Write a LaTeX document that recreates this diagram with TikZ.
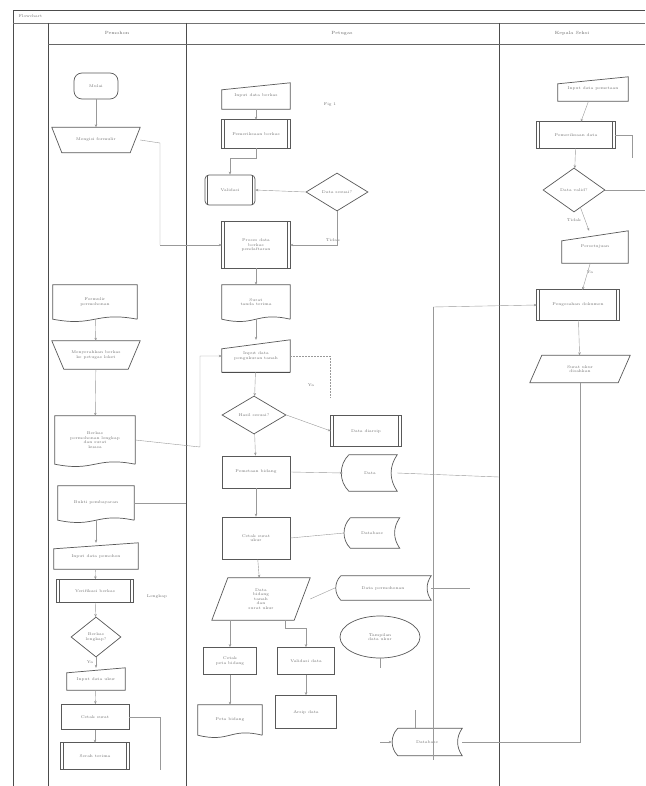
\documentclass[tikz,border=0pt]{standalone}
\usetikzlibrary{shapes.geometric,arrows.meta,calc}
\newcommand\shpManIn[2][6]{\draw[shp] (#2.south west) -- (#2.south east) -- (#2.north east) -- ([yshift=-#1pt]#2.north west) -- cycle;}
\newcommand\shpDoc[1]{\draw[shp] (#1.south east) -- (#1.north east) -- (#1.north west) -- (#1.south west) .. controls ($(#1.south west)!0.5!(#1.south east)+(0,-8pt)$) and ($(#1.south west)!0.5!(#1.south east)+(0,8pt)$) .. (#1.south east);}
\newcommand\shpPre[1]{\draw[shp] (#1.south west) rectangle (#1.north east); \draw[shp] ([xshift=3pt]#1.south west) -- ([xshift=3pt]#1.north west) ([xshift=-3pt]#1.south east) -- ([xshift=-3pt]#1.north east);}
\newcommand\shpPar[2][10]{\draw[shp] ([xshift=#1pt]#2.north west) -- (#2.north east) -- ([xshift=-#1pt]#2.south east) -- (#2.south west) -- cycle;}
\newcommand\shpMop[2][10]{\draw[shp] (#2.north west) -- (#2.north east) -- ([xshift=-#1pt]#2.south east) -- ([xshift=#1pt]#2.south west) -- cycle;}
\newcommand\shpSto[1]{\draw[shp] ([xshift=6pt]#1.north west) -- (#1.north east) to[bend right=35] (#1.south east) -- ([xshift=6pt]#1.south west) to[bend left=45] ([xshift=6pt]#1.north west);}
\begin{document}
\begin{tikzpicture}[x=1pt,y=-1pt,
  shp/.style={draw=black!65, line width=0.7pt},
  lane/.style={draw=black!70, line width=0.8pt},
  con/.style={draw=black!40, line width=0.4pt},
  arr/.style={con,-{Stealth[length=3pt,width=2.5pt]}},
  bx/.style 2 args={minimum width=#1pt, minimum height=#2pt, inner sep=1pt},
  t/.style={font=\fontsize{4}{4.6}\selectfont, text=black!55, align=center},
  hd/.style={font=\fontsize{4.5}{5}\selectfont, text=black!60},
  dmd/.style={diamond, shp, t, inner sep=0pt},
  term/.style={shp, rounded corners=8pt}]
\useasboundingbox (0,0) rectangle (645,786);
\fill[white] (0,0) rectangle (645,786);
% frame and lanes
\draw[lane] (13,786) -- (13,10) -- (645,10);
\draw[draw=black!55, line width=0.6pt] (13,23) -- (645,23);
\node[t, anchor=west] (title) at (15,16.5) {Flowchart};
\draw[lane] (48,23) -- (48,786);
\draw[lane] (186,23) -- (186,786);
\draw[lane] (499,23) -- (499,786);
\draw[draw=black!60, line width=0.6pt] (48,44) -- (645,44);
\node[hd] (h1) at (117,33) {Pemohon};
\node[hd] (h2) at (342,33) {Petugas};
\node[hd] (h3) at (572,33) {Kepala Seksi};

% ---------- lane 1 ----------
\node[t, bx={44}{26}, term] (s1) at (96,86) {Mulai};
\node[t, bx={88}{25}] (m1) at (96,140) {Mengisi formulir}; \shpMop{m1}
\node[t, bx={84}{34}] (d1) at (95,302) {Formulir\\permohonan}; \shpDoc{d1}
\node[t, bx={88}{28}] (m2) at (96,355) {Menyerahkan berkas\\ke petugas loket}; \shpMop[12]{m2}
\node[t, bx={80}{48}] (d2) at (95,440) {Berkas\\permohonan lengkap\\dan surat\\kuasa}; \shpDoc{d2}
\node[t, bx={76}{34}] (d3) at (96,503) {Bukti pembayaran}; \shpDoc{d3}
\node[t, bx={84}{26}, yshift=-2pt] (i1) at (96,554) {Input data pemohon}; \shpManIn{i1}
\node[t, bx={76}{23}] (p1) at (95,591) {Verifikasi berkas}; \shpPre{p1}
\node[dmd, minimum width=50pt, minimum height=40pt] (k1) at (96,637) {Berkas\\lengkap?};
\node[t, bx={58}{22}] (i2) at (96,679) {Input data ukur}; \shpManIn[5]{i2}
\node[t, bx={68}{25}, shp] (r1) at (95,717) {Cetak surat};
\node[t, bx={68}{26}] (p2) at (95,756) {Serah terima}; \shpPre{p2}
\node[t] (l1) at (157,597) {Lengkap};
\node[t] (l2) at (90,662) {Ya};

\draw[arr] (s1) -- (m1);
\draw[con] (m1.east) -- (160,143) -- (160,245);
\draw[arr] (d1) -- (m2);
\draw[arr] (m2) -- (d2);
\draw[arr] (d3.south) -- (i1.north);
\draw[arr] (i1) -- (p1);
\draw[arr] (p1) -- (k1);
\draw[arr] (k1) -- (i2);
\draw[arr] (i2) -- (r1);
\draw[arr] (r1) -- (p2);
\draw[con] (d3.east) -- (186,503);
\draw[con] (r1.east) -- (160,717) -- (160,770);

% ---------- lane 2 ----------
\node[t, bx={68}{26}] (i3) at (256,96) {Input data berkas}; \shpManIn[7]{i3}
\node[t] (fg) at (330,105) {Fig 1};
\node[t, bx={68}{28}] (p3) at (256,134) {Pemeriksaan berkas}; \shpPre{p3}
\node[t, bx={50}{30}, shp, rounded corners=4pt] (p4) at (230,190) {Validasi};
\draw[shp] ([xshift=3pt]p4.south west) -- ([xshift=3pt]p4.north west) ([xshift=-3pt]p4.south east) -- ([xshift=-3pt]p4.north east);
\node[dmd, minimum width=62pt, minimum height=38pt] (k2) at (337,192) {Data sesuai?};
\node[t, bx={68}{46}] (p5) at (256,245) {Proses data\\berkas\\pendaftaran}; \shpPre{p5}
\node[t, bx={68}{34}] (d4) at (256,302) {Surat\\tanda terima}; \shpDoc{d4}
\node[t, bx={68}{32}] (i4) at (256,356) {Input data\\pengukuran tanah}; \shpManIn[9]{i4}
\draw[draw=black!70, line width=1.2pt] (i4.south west) -- (i4.south east);
\node[dmd, minimum width=64pt, minimum height=38pt] (k3) at (254,415) {Hasil sesuai?};
\node[t, bx={70}{30}] (p6) at (366,431) {Data diarsip}; \shpPre{p6}
\node[t, bx={68}{32}, shp] (r2) at (256,472) {Pemetaan bidang};
\node[t, bx={54}{36}] (s2) at (370,473) {Data}; \shpSto{s2}
\node[t, bx={68}{42}, shp] (r3) at (256,538) {Cetak surat\\ukur};
\node[t, bx={55}{30}] (s3) at (372,533) {Database}; \shpSto{s3}
\node[t, bx={98}{42}] (q1) at (261,599) {Data\\bidang\\tanah\\dan\\surat ukur}; \shpPar[16]{q1}
\node[t, bx={96}{24}] (s4) at (383,588) {Data permohonan}; \shpSto{s4}
\node[t, ellipse, shp, minimum width=80pt, minimum height=42pt, inner sep=0pt] (e1) at (380,637) {Tampilan\\data ukur};
\node[t, bx={53}{27}, shp] (r4) at (230,661) {Cetak\\peta bidang};
\node[t, bx={57}{27}, shp] (r5) at (306,661) {Validasi data};
\node[t, bx={64}{30}] (d5) at (230,720) {Peta bidang}; \shpDoc{d5}
\node[t, bx={61}{33}, shp] (r6) at (306,712) {Arsip data};
\node[t, bx={70}{27}] (s5) at (427,742) {Database}; \shpSto{s5}
\node[t] (l3) at (311,385) {Ya};
\node[t] (l4) at (333,240) {Tidak};

\draw[arr] (160,245) -- (p5.west);
\draw[arr] (i3) -- (p3);
\draw[arr] (p3.south) -- ++(0,10) -| (p4.north);
\draw[arr] (k2.west) -- (p4.east);
\draw[arr] (k2.south) |- (p5.east);
\draw[arr] (p5) -- (d4);
\draw[arr] (d4) -- (i4);
\draw[arr] (i4) -- (k3);
\draw[arr] (d2.east) -- (200,447) -- (200,356) -- (i4.west);
\draw[con, dash pattern=on 2pt off 1pt] (i4.east) -- (330,356) -- (330,398);
\draw[arr] (k3.east) -- (p6.west);
\draw[arr] (k3) -- (r2);
\draw[arr] (r2.east) -- (s2.west);
\draw[con] (s2.east) -- (499,477);
\draw[arr] (r2) -- (r3);
\draw[con] (r3.east) -- (s3.west);
\draw[arr] (r3) -- (q1);
\draw[arr] ($(q1.south)+(-31,0)$) -- (r4.north);
\draw[arr] ($(q1.south east)+(-25,0)$) |- ++(0,8) -| (r5.north);
\draw[arr] (r4) -- (d5);
\draw[arr] (r5) -- (r6);
\draw[con] (q1.east) -- (s4.west);
\draw[con] (s4.east) -- (470,588);
\draw[con] (e1.south) -- ++(0,10);
\draw[con] ($(s5.north west)+(23,0)$) -- ++(0,-18);
\draw[arr] (380,742) -- (s5.west);

% ---------- lane 3 ----------
\node[t, bx={70}{24}] (i5) at (593,89) {Input data pemetaan}; \shpManIn[7]{i5}
\node[t, bx={78}{26}] (p7) at (576,135) {Pemeriksaan data}; \shpPre{p7}
\node[dmd, minimum width=62pt, minimum height=44pt] (k4) at (574,190) {Data valid?};
\node[t, bx={66}{32}] (i6) at (595,247) {Persetujuan}; \shpManIn[10]{i6}
\node[t, bx={82}{30}] (p8) at (578,305) {Pengesahan dokumen}; \shpPre{p8}
\node[t, bx={100}{27}] (q2) at (580,369) {Surat ukur\\disahkan}; \shpPar[12]{q2}
\node[t] (l5) at (574,220) {Tidak};
\node[t] (l6) at (590,272) {Ya};

\draw[arr] (i5) -- (p7);
\draw[arr] (p7) -- (k4);
\draw[arr] (k4) -- (i6);
\draw[arr] (i6) -- (p8);
\draw[arr] (p8) -- (q2);
\draw[con] (p7.east) -- (632,135) -- (632,158);
\draw[con] (k4.east) -- (645,190);
\draw[arr] (433,307) -- (p8.west);
\draw[con] (433,307) -- (433,760);
\draw[con] (q2.south) -- (580,742) -- (s5.east);
\end{tikzpicture}
\end{document}
